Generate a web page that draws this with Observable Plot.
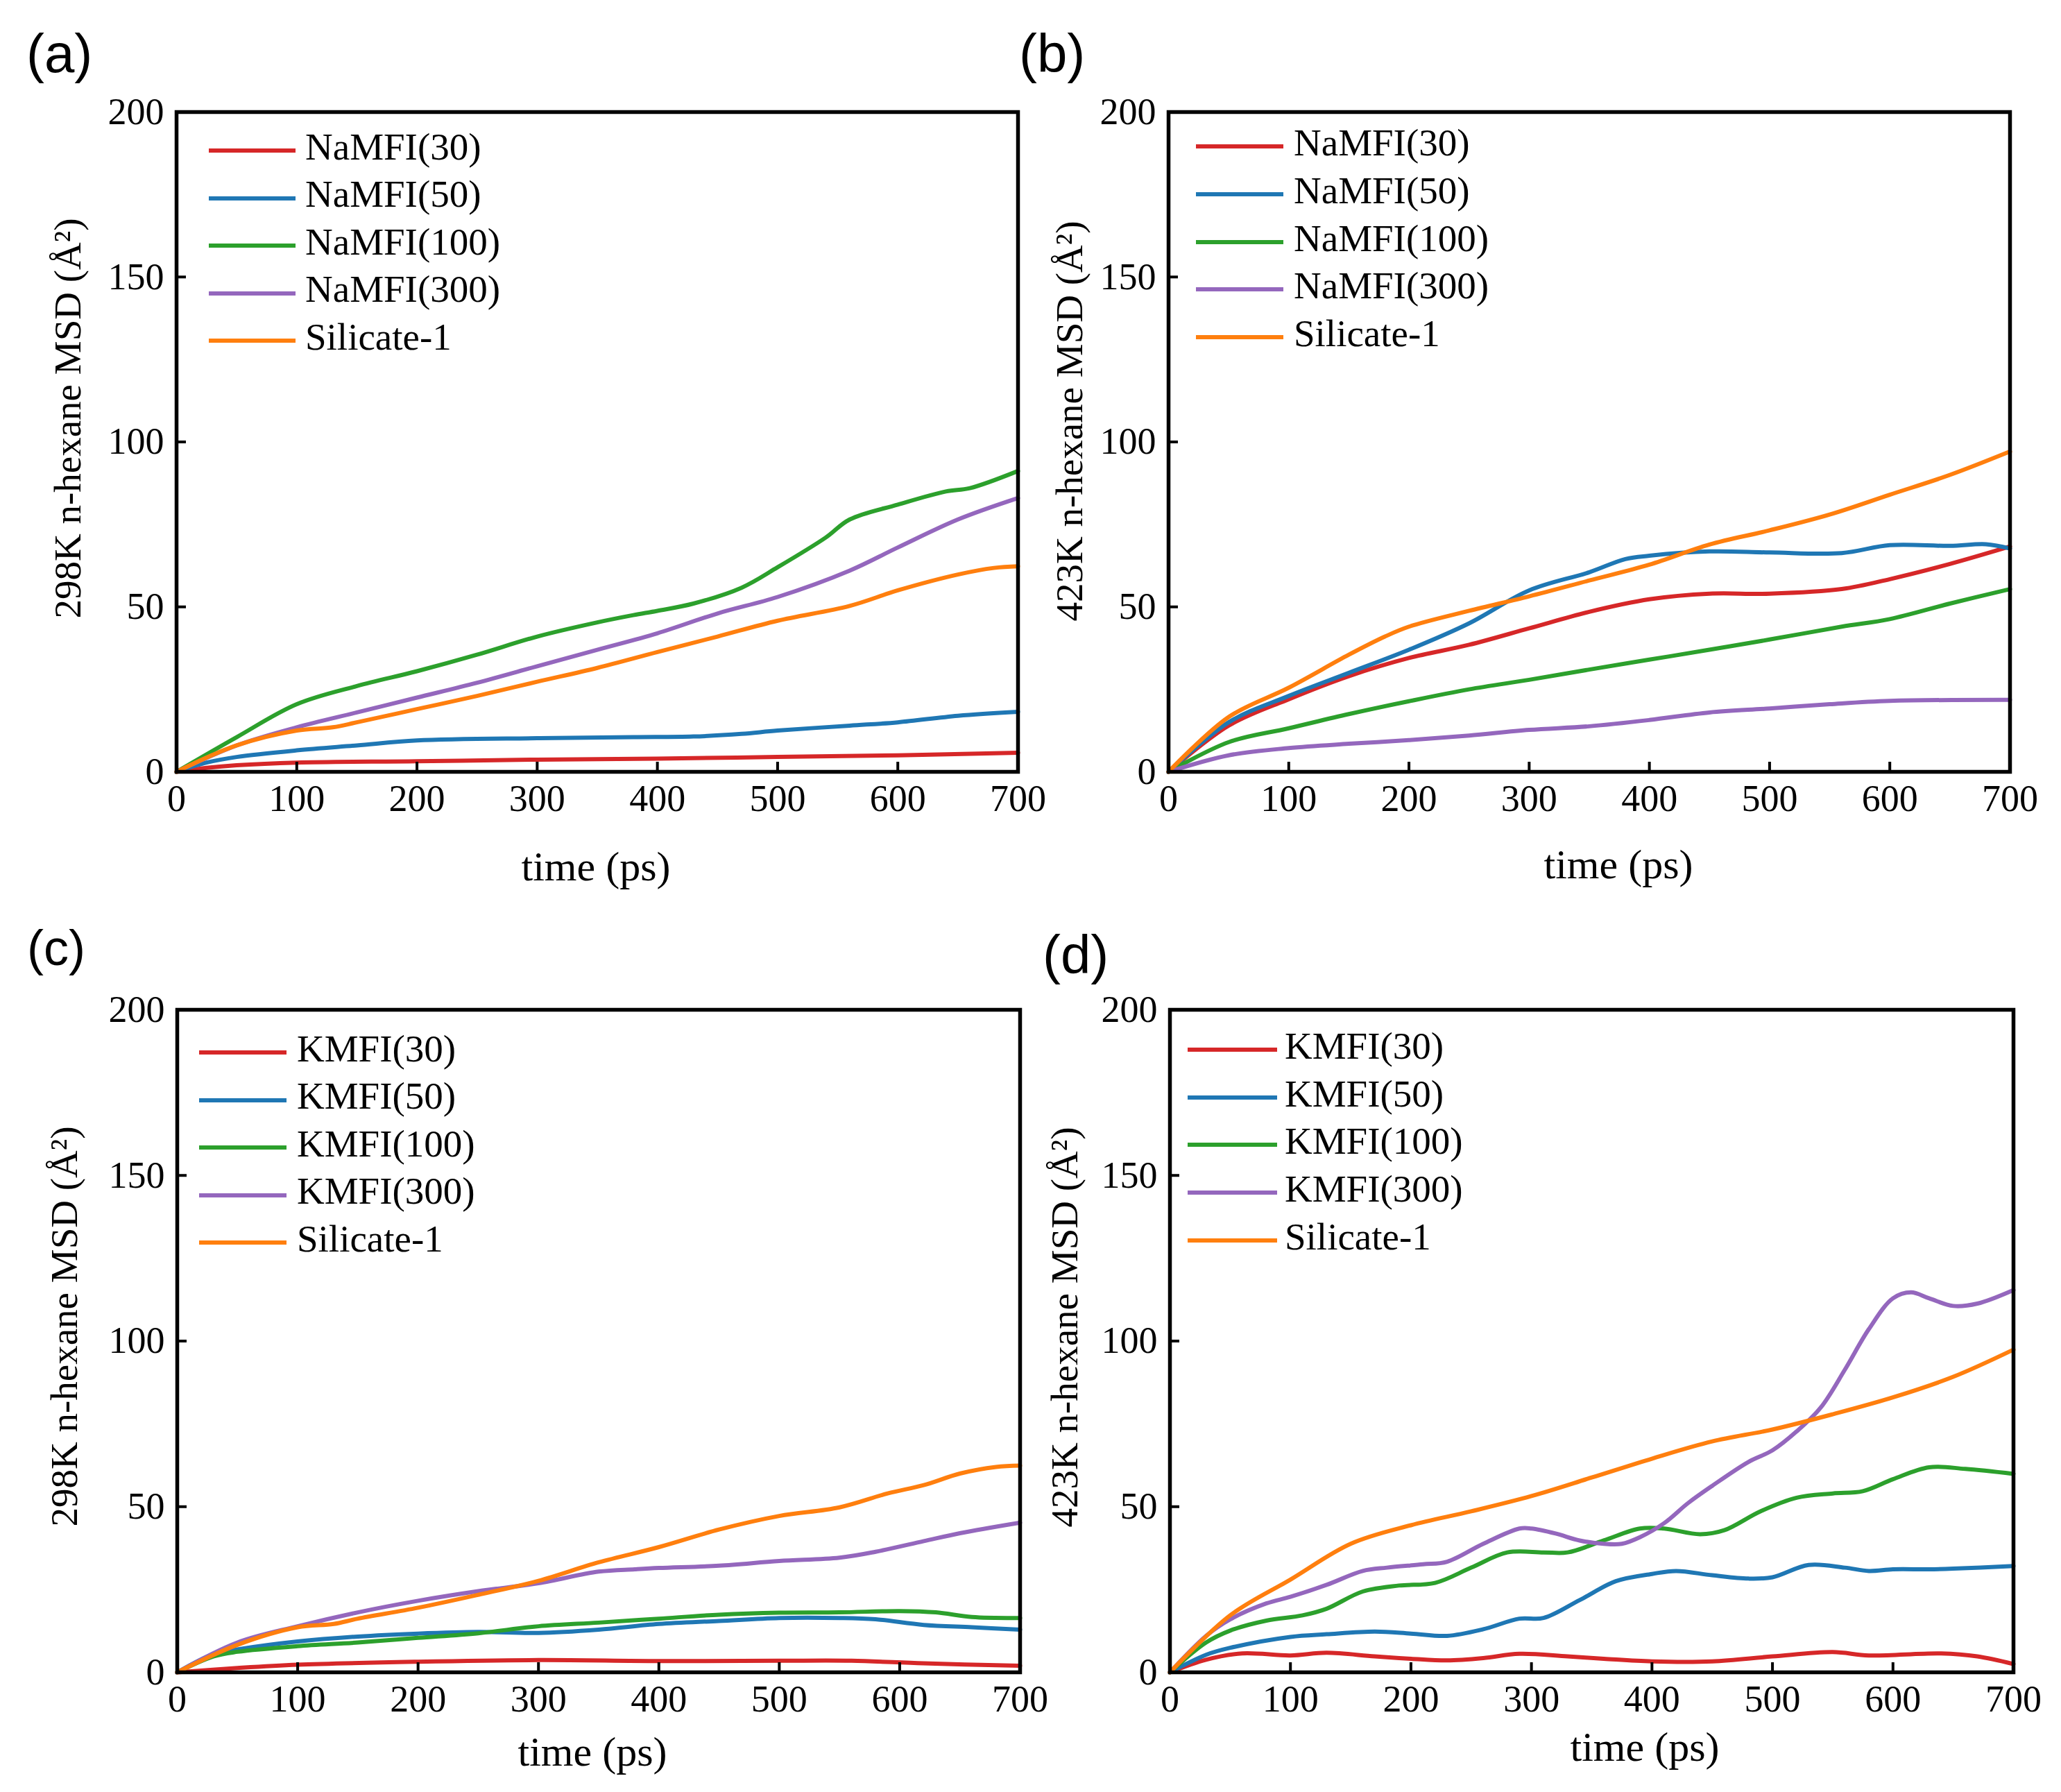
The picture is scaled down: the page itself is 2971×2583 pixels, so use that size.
<!DOCTYPE html>
<html><head><meta charset="utf-8">
<script src="https://cdn.jsdelivr.net/npm/d3@7"></script>
<script src="https://cdn.jsdelivr.net/npm/@observablehq/plot@0.6"></script>
<style>
body{margin:0;background:#fff;}
#root{position:relative;width:2971px;height:2583px;overflow:hidden;background:#fff;}
.abs{position:absolute;white-space:nowrap;line-height:1;color:#000;}
</style></head><body><div id="root"></div>
<script>
// ---------- data ----------
const xTicks = [0, 100, 200, 300, 400, 500, 600, 700];
const yTicks = [0, 50, 100, 150, 200];
const colors = ["#d62728", "#1f77b4", "#2ca02c", "#9467bd", "#ff7f0e"];
const naNames = ["NaMFI(30)", "NaMFI(50)", "NaMFI(100)", "NaMFI(300)", "Silicate-1"];
const kNames = ["KMFI(30)", "KMFI(50)", "KMFI(100)", "KMFI(300)", "Silicate-1"];

// (a) 298K NaMFI
const a30 = [[0,0],[25,1.2],[50,2],[100,2.8],[200,3.2],[300,3.7],[400,4],[500,4.5],[600,5],[700,5.8]];
const a50 = [[0,0],[25,2.8],[50,4.5],[100,6.5],[150,8],[200,9.5],[300,10.2],[380,10.5],[430,10.7],[470,11.5],[500,12.5],[560,14],[600,15],[650,17],[700,18.2]];
const a100 = [[0,0],[50,10.5],[100,20.5],[150,26],[200,30.5],[250,35.5],[300,41],[350,45.3],[380,47.5],[400,48.8],[430,51],[470,55.8],[500,62],[540,71],[560,76.5],[600,81],[640,85],[660,86],[700,91.2]];
const a300 = [[0,0],[50,8],[100,13.5],[150,18],[200,22.5],[250,27],[300,32],[350,37],[400,42],[450,48],[500,53],[560,61],[600,68],[650,76.5],[700,83]];
const aSil = [[0,0],[50,8],[100,12.5],[130,13.5],[150,15],[200,19],[250,23],[300,27.3],[350,31.5],[400,36.3],[450,41],[500,45.8],[560,50.3],[600,55],[650,59.8],[680,61.8],[700,62.3]];

// (b) 423K NaMFI
const b30 = [[0,0],[50,14],[100,22],[150,29],[200,34.5],[250,38.5],[300,43.5],[350,48.5],[400,52.3],[450,54],[500,54],[560,55.4],[600,58.4],[650,63],[700,68.3]];
const b50 = [[0,0],[50,15],[100,23],[150,30],[200,37],[250,45],[300,55],[350,60.5],[380,64.5],[400,65.5],[450,66.8],[500,66.5],[560,66.3],[600,68.7],[650,68.5],[680,69],[700,67.7]];
const b100 = [[0,0],[50,9],[100,13.2],[150,17.5],[200,21.4],[250,25],[300,27.9],[350,31],[400,34],[450,37],[500,40.1],[560,44],[600,46.3],[650,51],[700,55.4]];
const b300 = [[0,0],[50,5],[100,7.2],[150,8.5],[200,9.6],[250,11],[300,12.7],[350,13.8],[400,15.7],[450,18],[500,19.2],[550,20.5],[600,21.5],[700,21.8]];
const bSil = [[0,0],[50,16.6],[100,25.5],[150,35.5],[180,41],[200,44],[250,48.8],[300,53.2],[350,58],[400,62.8],[450,68.9],[500,73.2],[550,78],[600,84],[650,90],[700,97.1]];

// (c) 298K KMFI
const c30 = [[0,0],[50,1.3],[100,2.3],[200,3.2],[300,3.7],[400,3.4],[500,3.5],[560,3.5],[620,2.7],[700,2]];
const c50 = [[0,0],[30,5.5],[50,6.9],[100,9.3],[150,10.8],[200,11.7],[250,12.2],[300,11.9],[350,12.9],[400,14.6],[450,15.5],[500,16.4],[550,16.4],[580,16],[620,14.3],[660,13.6],[700,12.9]];
const c100 = [[0,0],[30,4.8],[50,6.2],[100,7.9],[150,9],[200,10.4],[250,11.8],[300,13.9],[350,15],[400,16.2],[450,17.4],[500,18],[550,18.1],[600,18.5],[630,18.1],[660,16.7],[700,16.4]];
const c300 = [[0,0],[50,9],[100,13.9],[150,18.1],[200,21.6],[250,24.5],[300,26.9],[350,30.4],[380,31.1],[400,31.5],[450,32.2],[500,33.6],[550,34.6],[580,36.4],[620,39.6],[650,42],[700,45.2]];
const cSil = [[0,0],[50,8.3],[100,13.6],[130,14.6],[150,16.2],[200,19.5],[250,23.4],[300,27.6],[350,33.2],[400,37.8],[450,43.1],[500,47.2],[550,49.8],[590,54],[620,56.5],[650,60],[680,62],[700,62.4]];

// (d) 423K KMFI
const d30 = [[0,0],[30,3.8],[60,5.7],[100,5.1],[130,5.9],[170,4.8],[200,4.1],[230,3.6],[260,4.3],[290,5.6],[330,4.8],[360,4.1],[400,3.3],[450,3.3],[500,4.8],[550,6.1],[580,5.1],[640,5.7],[670,4.8],[700,2.5]];
const d50 = [[0,0],[30,5.3],[50,7.4],[100,10.7],[130,11.5],[170,12.3],[200,11.7],[230,11],[260,13],[290,16.2],[310,16.4],[340,21.8],[370,27.5],[400,29.7],[420,30.6],[450,29.3],[480,28.3],[500,28.7],[530,32.4],[560,31.6],[580,30.6],[600,31.1],[630,31.1],[650,31.3],[700,32.1]];
const d100 = [[0,0],[30,9],[50,12.6],[80,15.6],[110,17.2],[130,19.2],[160,24.4],[190,26.2],[220,27],[250,31.6],[280,36.2],[310,36.2],[330,36.2],[360,39.8],[390,43.4],[410,43.4],[440,41.7],[460,42.9],[490,48.6],[520,52.7],[550,54],[575,54.7],[600,58.3],[630,61.9],[660,61.4],[700,59.9]];
const d300 = [[0,0],[30,11],[50,16],[80,20.8],[100,22.8],[130,26.4],[160,30.6],[180,31.6],[210,32.6],[230,33.4],[260,38.8],[290,43.4],[300,43.4],[320,41.9],[340,39.8],[360,38.8],[375,38.8],[390,40.8],[410,45],[430,51.1],[450,56.3],[480,63.5],[500,67],[520,72.7],[540,79.9],[560,91.3],[580,103.6],[600,112.9],[615,114.7],[630,112.9],[650,110.6],[670,111.3],[700,115.4]];
const dSil = [[0,0],[50,17.2],[100,28],[150,38.8],[200,44.4],[250,48.6],[300,53.2],[350,58.8],[400,64.5],[450,69.7],[500,73.3],[550,77.9],[600,83],[650,89.2],[700,97.4]];

// ---------- layout ----------
const panels = [
  {letter: "(a)", lx: 38, lb: 104, lfs: 78, ylabel: "298K n-hexane MSD (Å²)", ycx: 97, ycy: 603, xcx: 859, xb: 1269,
   left: 254, right: 1467, top: 161, bottom: 1112, names: naNames, series: [a30, a50, a100, a300, aSil],
   legX1: 301, legX2: 426, legT: 440, legY: 217, legStep: 68.5},
  {letter: "(b)", lx: 1469, lb: 104, lfs: 78, ylabel: "423K n-hexane MSD (Å²)", ycx: 1541, ycy: 607, xcx: 2333, xb: 1266,
   left: 1684, right: 2897, top: 161, bottom: 1112, names: naNames, series: [b30, b50, b100, b300, bSil],
   legX1: 1724, legX2: 1850, legT: 1865, legY: 211, legStep: 68.8},
  {letter: "(c)", lx: 39, lb: 1391, lfs: 72, ylabel: "298K n-hexane MSD (Å²)", ycx: 92, ycy: 1912, xcx: 854, xb: 2545,
   left: 255, right: 1470, top: 1455, bottom: 2410, names: kNames, series: [c30, c50, c100, c300, cSil],
   legX1: 287, legX2: 413, legT: 428, legY: 1517, legStep: 68.5},
  {letter: "(d)", lx: 1503, lb: 1403, lfs: 78, ylabel: "423K n-hexane MSD (Å²)", ycx: 1534, ycy: 1913, xcx: 2371, xb: 2538,
   left: 1686, right: 2902, top: 1455, bottom: 2410, names: kNames, series: [d30, d50, d100, d300, dSil],
   legX1: 1712, legX2: 1841, legT: 1852, legY: 1513, legStep: 68.7}
];

const root = document.getElementById("root");
const SERIF = "'Liberation Serif', 'Times New Roman', serif";
const SANS = "'Liberation Sans', Arial, sans-serif";

function addText(txt, x, baseline, fs, family, anchor) {
  const el = document.createElement("div");
  el.className = "abs";
  el.textContent = txt;
  el.style.fontFamily = family;
  el.style.fontSize = fs + "px";
  const asc = family === SANS ? 0.8465 : 0.8375;
  el.style.top = (baseline - asc * fs) + "px";
  el.style.left = x + "px";
  if (anchor === "middle") el.style.transform = "translateX(-50%)";
  root.appendChild(el);
}
function addRotated(txt, cx, cy, fs) {
  const el = document.createElement("div");
  el.className = "abs";
  el.textContent = txt;
  el.style.fontFamily = SERIF;
  el.style.fontSize = fs + "px";
  el.style.left = cx + "px";
  el.style.top = cy + "px";
  el.style.transform = "translate(-50%,-50%) rotate(-90deg)";
  root.appendChild(el);
}

const ML = 200, MT = 20, MR = 40, MB = 100;
for (const p of panels) {
  const fw = p.right - p.left, fh = p.bottom - p.top;
  const data = p.series.flatMap((s, i) => s.map(([t, v]) => ({t, v, name: p.names[i]})));
  const chart = Plot.plot({
    width: ML + fw + MR, height: MT + fh + MB,
    marginLeft: ML, marginTop: MT, marginRight: MR, marginBottom: MB,
    style: {fontFamily: SERIF, fontSize: "54px", color: "#000", background: "transparent", overflow: "visible"},
    x: {domain: [0, 700]},
    y: {domain: [0, 200]},
    color: {domain: p.names, range: colors},
    marks: [
      Plot.line(data, {x: "t", y: "v", z: "name", stroke: "name", strokeWidth: 6, curve: "catmull-rom"}),
      Plot.tickX(xTicks.slice(1, -1), {x: d => d, insetTop: fh - 14, stroke: "#000", strokeWidth: 4}),
      Plot.tickY(yTicks.slice(1, -1), {y: d => d, insetRight: fw - 14, stroke: "#000", strokeWidth: 4}),
      Plot.axisX(xTicks, {tickSize: 0, tickPadding: 18, label: null, fontSize: 54}),
      Plot.axisY(yTicks, {tickSize: 0, tickPadding: 18, label: null, fontSize: 54}),
      Plot.frame({stroke: "#000", strokeWidth: 5.5})
    ]
  });
  chart.style.position = "absolute";
  chart.style.left = (p.left - ML) + "px";
  chart.style.top = (p.top - MT) + "px";
  root.appendChild(chart);

  // panel letter, axis titles
  addText(p.letter, p.lx, p.lb, p.lfs, SANS, "start");
  addText("time (ps)", p.xcx, p.xb, 60, SERIF, "middle");
  addRotated(p.ylabel, p.ycx, p.ycy, 55);

  // legend
  p.names.forEach((n, i) => {
    const y = p.legY + i * p.legStep;
    const ln = document.createElement("div");
    ln.className = "abs";
    ln.style.left = p.legX1 + "px";
    ln.style.width = (p.legX2 - p.legX1) + "px";
    ln.style.top = (y - 3) + "px";
    ln.style.height = "6px";
    ln.style.background = colors[i];
    root.appendChild(ln);
    addText(n, p.legT, y + 13, 55, SERIF, "start");
  });
}
</script></body></html>
